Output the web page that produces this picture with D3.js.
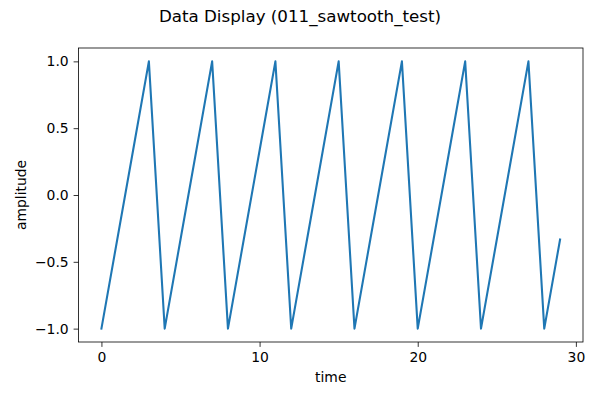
<!DOCTYPE html>
<html>
<head>
<meta charset="utf-8">
<script src="https://cdn.jsdelivr.net/npm/d3@7"></script>
<style>
  body { margin: 0; background: #fff; }
  text { font-family: "DejaVu Sans", sans-serif; fill: #000; }
</style>
</head>
<body>
<div id="chart"></div>
<script>
// sawtooth samples
var time = [0,1,2,3,4,5,6,7,8,9,10,11,12,13,14,15,16,17,18,19,20,21,22,23,24,25,26,27,28,29];
var amplitude = [-1,-0.333,0.333,1, -1,-0.333,0.333,1, -1,-0.333,0.333,1, -1,-0.333,0.333,1,
                 -1,-0.333,0.333,1, -1,-0.333,0.333,1, -1,-0.333,0.333,1, -1,-0.333];
var xTicks = [0,10,20,30];
var yTicks = [-1.0,-0.5,0.0,0.5,1.0];

var W = 600, H = 400;
var m = {left: 78.5, right: 583, top: 48, bottom: 342};

var svg = d3.select("#chart").append("svg").attr("width", W).attr("height", H);

var x = d3.scaleLinear().domain([-1.45, 30.45]).range([m.left, m.right]);
var y = d3.scaleLinear().domain([-1.1, 1.1]).range([m.bottom, m.top]);

var line = d3.line().x(function(d, i){ return x(time[i]); }).y(function(d){ return y(d); });

svg.append("path")
  .datum(amplitude)
  .attr("d", line)
  .attr("fill", "none")
  .attr("stroke", "#1f77b4")
  .attr("stroke-width", 2.08)
  .attr("stroke-linejoin", "round")
  .attr("stroke-linecap", "square");

var xAxis = svg.append("g").attr("transform", "translate(0," + m.bottom + ")")
  .call(d3.axisBottom(x).tickValues(xTicks).tickFormat(d3.format("d")).tickSize(4.9).tickPadding(4.9));
var yAxis = svg.append("g").attr("transform", "translate(" + m.left + ",0)")
  .call(d3.axisLeft(y).tickValues(yTicks).tickFormat(function(d){ return d3.format(".1f")(d).replace("-", "\u2212"); }).tickSize(4.9).tickPadding(4.9));

[xAxis, yAxis].forEach(function(a){
  a.select(".domain").remove();
  a.selectAll("line").attr("stroke", "#000").attr("stroke-width", 0.8);
  a.selectAll("text").attr("font-size", "13.9px").attr("font-family", "DejaVu Sans");
});

// frame
svg.append("rect")
  .attr("x", m.left).attr("y", m.top)
  .attr("width", m.right - m.left).attr("height", m.bottom - m.top)
  .attr("fill", "none").attr("stroke", "#000").attr("stroke-width", 0.8);

svg.append("text")
  .attr("x", W / 2).attr("y", 22)
  .attr("text-anchor", "middle")
  .attr("font-size", "16.7px")
  .text("Data Display (011_sawtooth_test)");

svg.append("text")
  .attr("x", (m.left + m.right) / 2).attr("y", 382)
  .attr("text-anchor", "middle")
  .attr("font-size", "13.9px")
  .text("time");

svg.append("text")
  .attr("transform", "translate(26," + (m.top + m.bottom) / 2 + ") rotate(-90)")
  .attr("text-anchor", "middle")
  .attr("font-size", "13.9px")
  .text("amplitude");
</script>
</body>
</html>
